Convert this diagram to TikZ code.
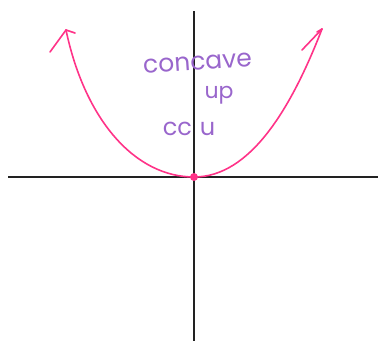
\documentclass[tikz,border=0pt]{standalone}
\usepackage{fontspec}
\setmainfont{Poppins}
\definecolor{axisgray}{HTML}{222222}
\definecolor{curvepink}{HTML}{FF3388}
\definecolor{notepurple}{HTML}{9966CC}
\begin{document}
\begin{tikzpicture}[
    x=1pt, y=-1pt,
    axis/.style={line width=1.6pt, draw=axisgray},
    curve/.style={
        line width=1.6pt,
        draw=curvepink,
        line cap=round,
        line join=round,
    },
    note/.style={text=notepurple, inner sep=0pt, anchor=base, text depth=0pt},
]

% Picture frame (pixel units, y pointing down)
\useasboundingbox (0,0) rectangle (380,341);

% Axis positions
\def\xaxis{177}
\def\yaxis{194}

% --- Axes ---
\coordinate (xL) at (8,\xaxis);
\coordinate (xR) at (378,\xaxis);
\coordinate (yT) at (\yaxis,11);
\coordinate (yB) at (\yaxis,341);
\draw[axis] (xL) -- (xR);
\draw[axis] (yT) -- (yB);

% --- Parabola ---
\coordinate (V) at (\yaxis,\xaxis);
\coordinate (tipL) at (66,30);
\coordinate (tipR) at (322,29);
\draw[curve] (V) .. controls (135,177) and (85,120) .. (tipL);
\draw[curve] (V) .. controls (250,177) and (291,109) .. (tipR);

% Arrow barbs
\draw[curve] (tipL) -- ++(-16,22);
\draw[curve] (tipL) -- ++(9,3);
\draw[curve] (tipR) -- ++(-20,21);
\draw[curve] (tipR) -- ++(-5,3);

% Vertex dot
\node[circle, fill=curvepink, minimum size=8pt, inner sep=0pt] (vertex) at (V) {};

% --- Labels ---
\node[note, font=\fontsize{25}{27}\selectfont, rotate=4] (concave) at (198,70) {concave};
\node[note, font=\fontsize{22}{24}\selectfont, text height=11pt] (up) at (219,98) {up};
\node[note, font=\fontsize{24}{26}\selectfont] (ccu) at (189,135) {cc\hspace{8pt}u};

\end{tikzpicture}
\end{document}
